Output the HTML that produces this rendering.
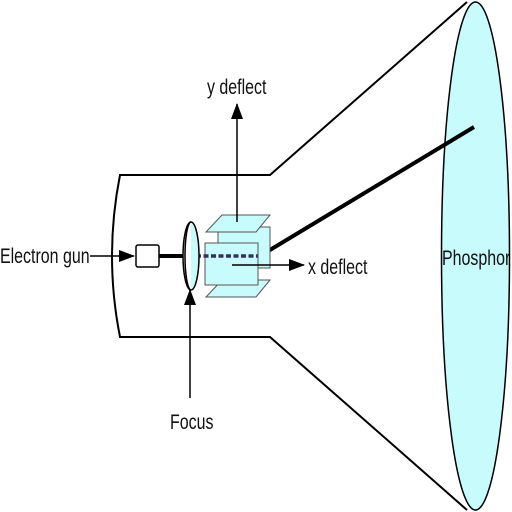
<!DOCTYPE html>
<html><head><style>
html,body{margin:0;padding:0;background:#fff;}
svg{display:block;}
text{font-family:"Liberation Sans Narrow","Liberation Sans",sans-serif;font-size:21px;fill:#111;}
</style></head><body>
<svg width="512" height="512" viewBox="0 0 512 512" xmlns="http://www.w3.org/2000/svg">
<defs>
<marker id="b" markerWidth="16" markerHeight="12" refX="15" refY="6" orient="auto" markerUnits="userSpaceOnUse"><path d="M0,0 L16,6 L0,12z" fill="#000"/></marker></defs>
<path d="M467,2 L270,175 L120,175 Q104,256 120,337 L270,337 L467,510" fill="none" stroke="#000" stroke-width="2"/>
<ellipse cx="475.5" cy="256" rx="34" ry="254" fill="#c8fbfc" stroke="#000" stroke-width="1.5"/>
<text x="442" y="265" transform="translate(442 0) scale(0.76 1) translate(-442 0)">Phosphor</text>
<line x1="260" y1="256" x2="474" y2="127" stroke="#000" stroke-width="4"/>
<line x1="90" y1="256" x2="134" y2="256" stroke="#000" stroke-width="1.5" marker-end="url(#b)"/>
<rect x="136" y="245" width="23" height="22" rx="2" fill="#fff" stroke="#000" stroke-width="1.5"/>
<line x1="159" y1="256" x2="184" y2="256" stroke="#000" stroke-width="4"/>
<rect x="218" y="227" width="52" height="41" fill="#c8fbfc" stroke="#555" stroke-width="1"/>
<polygon points="222,215 270,215 256,232 206,232" fill="#c8fbfc" stroke="#555" stroke-width="1"/>
<polygon points="222,280 270,280 256,297 206,297" fill="#c8fbfc" stroke="#555" stroke-width="1"/>
<rect x="205" y="243" width="53" height="42" fill="#c8fbfc" stroke="#555" stroke-width="1"/>
<line x1="196" y1="256" x2="258" y2="256" stroke="#335" stroke-width="3.5" stroke-dasharray="5,2.5"/>
<ellipse cx="191" cy="256" rx="8" ry="34" fill="#c8fbfc" stroke="#000" stroke-width="1.5"/>
<path d="M191,222 A6,34 0 0 0 191,290" fill="#fff" stroke="#000" stroke-width="1.5"/>
<line x1="232" y1="265" x2="304" y2="265" stroke="#000" stroke-width="1.5" marker-end="url(#b)"/>
<line x1="237" y1="222" x2="237" y2="104" stroke="#000" stroke-width="1.5" marker-end="url(#b)"/>
<line x1="190" y1="398" x2="190" y2="290" stroke="#000" stroke-width="1.5" marker-end="url(#b)"/>
<text x="207" y="94" transform="translate(207 0) scale(0.76 1) translate(-207 0)">y deflect</text>
<text x="308" y="274" transform="translate(308 0) scale(0.76 1) translate(-308 0)">x deflect</text>
<text x="170" y="429" transform="translate(170 0) scale(0.76 1) translate(-170 0)">Focus</text>
<text x="0" y="263" transform="scale(0.76 1)">Electron gun</text>
</svg>
</body></html>
